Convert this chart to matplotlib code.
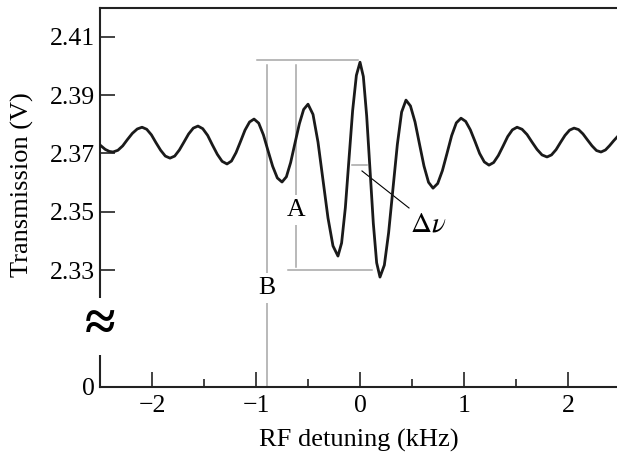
import matplotlib
matplotlib.use("Agg")
import matplotlib.pyplot as plt
from matplotlib.patches import Rectangle

plt.rcParams['font.family'] = ['Liberation Serif', 'DejaVu Serif']
plt.rcParams['mathtext.fontset'] = 'stix'

# RF detuning (kHz) and transmission (V)
detuning = [-2.500, -2.450, -2.410, -2.375,
            -2.328, -2.282, -2.236, -2.189, -2.142, -2.096,
            -2.051, -2.006, -1.962, -1.917, -1.872, -1.827,
            -1.782, -1.737, -1.693, -1.648, -1.603, -1.558,
            -1.512, -1.465, -1.419, -1.372, -1.326, -1.279,
            -1.236, -1.192, -1.149, -1.106, -1.062, -1.019,
            -0.974, -0.929, -0.885, -0.840, -0.795, -0.750,
            -0.708, -0.667, -0.625, -0.583, -0.542, -0.500,
            -0.452, -0.404, -0.356, -0.308, -0.260, -0.212,
            -0.177, -0.141, -0.106, -0.071, -0.035, 0.000,
            0.032, 0.064, 0.096, 0.128, 0.160, 0.192,
            0.234, 0.275, 0.317, 0.359, 0.400, 0.442,
            0.485, 0.529, 0.572, 0.615, 0.659, 0.702,
            0.747, 0.792, 0.837, 0.881, 0.926, 0.971,
            1.016, 1.061, 1.106, 1.150, 1.195, 1.240,
            1.285, 1.330, 1.375, 1.420, 1.465, 1.510,
            1.558, 1.606, 1.654, 1.702, 1.750, 1.798,
            1.841, 1.885, 1.928, 1.971, 2.015, 2.058,
            2.101, 2.144, 2.188, 2.231, 2.274, 2.317,
            2.360, 2.400, 2.440, 2.471]
transmission = [2.3729, 2.3714, 2.3707, 2.3705,
                2.3711, 2.3726, 2.3748, 2.3769, 2.3784, 2.3790,
                2.3783, 2.3764, 2.3737, 2.3711, 2.3691, 2.3684,
                2.3691, 2.3712, 2.3739, 2.3767, 2.3787, 2.3794,
                2.3785, 2.3762, 2.3729, 2.3697, 2.3673, 2.3664,
                2.3674, 2.3703, 2.3741, 2.3780, 2.3808, 2.3818,
                2.3804, 2.3764, 2.3710, 2.3656, 2.3616, 2.3602,
                2.3620, 2.3669, 2.3736, 2.3802, 2.3851, 2.3869,
                2.3834, 2.3739, 2.3609, 2.3479, 2.3383, 2.3348,
                2.3393, 2.3514, 2.3681, 2.3847, 2.3968, 2.4013,
                2.3964, 2.3829, 2.3645, 2.3460, 2.3325, 2.3276,
                2.3317, 2.3428, 2.3580, 2.3731, 2.3842, 2.3883,
                2.3863, 2.3808, 2.3732, 2.3657, 2.3601, 2.3581,
                2.3597, 2.3641, 2.3701, 2.3761, 2.3805, 2.3821,
                2.3810, 2.3781, 2.3741, 2.3700, 2.3671, 2.3660,
                2.3669, 2.3693, 2.3725, 2.3758, 2.3781, 2.3790,
                2.3783, 2.3765, 2.3739, 2.3714, 2.3695, 2.3688,
                2.3695, 2.3713, 2.3738, 2.3762, 2.3780, 2.3787,
                2.3782, 2.3767, 2.3746, 2.3726, 2.3710, 2.3705,
                2.3712, 2.3727, 2.3744, 2.3756]

ytick_vals = [2.33, 2.35, 2.37, 2.39, 2.41]
ytick_labels = ['2.33', '2.35', '2.37', '2.39', '2.41']
xtick_vals = [-2, -1, 0, 1, 2]

# where the broken axis puts its "0"
zero_pos = 2.2899

fig = plt.figure(figsize=(6.17, 4.54), dpi=100)
ax = fig.add_axes([0.1621, 0.1476, 0.8379, 0.8348])

gray = '#a6a6a6'
# A / B markers and the delta-nu bar
ax.plot([-0.990, -0.019], [2.4020, 2.4020], color=gray, lw=1.1)
ax.plot([-0.692, 0.115], [2.3300, 2.3300], color=gray, lw=1.1)
ax.plot([-0.894, -0.894], [2.4003, zero_pos], color=gray, lw=1.1)
ax.plot([-0.615, -0.615], [2.4003, 2.3310], color=gray, lw=1.1)
ax.plot([-0.077, 0.067], [2.3660, 2.3660], color=gray, lw=1.1)
ax.plot([0.019, 0.471], [2.3640, 2.3513], color='black', lw=0.8)

ax.plot(detuning, transmission, color='#1a1a1a', lw=2.0, zorder=3)

box = dict(facecolor='white', edgecolor='none', pad=3)
ax.text(-0.615, 2.3506, 'A', fontsize=18.5, ha='center', va='center', bbox=box, zorder=4)
ax.text(-0.894, 2.3239, 'B', fontsize=18.5, ha='center', va='center', bbox=box, zorder=4)
ax.text(0.66, 2.3455, r'$\Delta\nu$', fontsize=21, ha='center', va='center')

ax.set_xlim(-2.5, 2.471)
ax.set_ylim(zero_pos, 2.4199)
ax.set_yticks([zero_pos] + ytick_vals)
ax.set_yticklabels(['0'] + ytick_labels)
ax.set_xticks(xtick_vals)
ax.set_xticklabels([str(v) if v >= 0 else '\u2212' + str(-v) for v in xtick_vals])
ax.set_xticks([-1.5, -0.5, 0.5, 1.5], minor=True)

ax.tick_params(axis='both', which='major', direction='in', length=11, width=1.2,
               labelsize=18.5, color='#222222')
ax.tick_params(axis='x', which='minor', direction='in', length=5.5, width=1.2, color='#222222')
ax.tick_params(axis='y', pad=3.5)
ax.tick_params(axis='x', pad=6)

for side in ['left', 'bottom', 'top']:
    ax.spines[side].set_linewidth(1.5)
    ax.spines[side].set_color('#222222')
ax.spines['right'].set_visible(False)

# break in the y axis
ax.add_patch(Rectangle((-0.04, 0.084), 0.08, 0.151, transform=ax.transAxes,
                       facecolor='white', edgecolor='none', clip_on=False, zorder=5))
ax.text(0.0, 0.16, '\u2248', transform=ax.transAxes, fontsize=40, fontweight='bold',
        ha='center', va='center', zorder=6)

fig.text(22 / 617, 1 - 185 / 454, 'Transmission (V)', rotation=90,
         fontsize=19, ha='center', va='center')
fig.text(359 / 617, 1 - 440 / 454, 'RF detuning (kHz)', fontsize=19,
         ha='center', va='center')

fig.savefig('out.png', dpi=100)
